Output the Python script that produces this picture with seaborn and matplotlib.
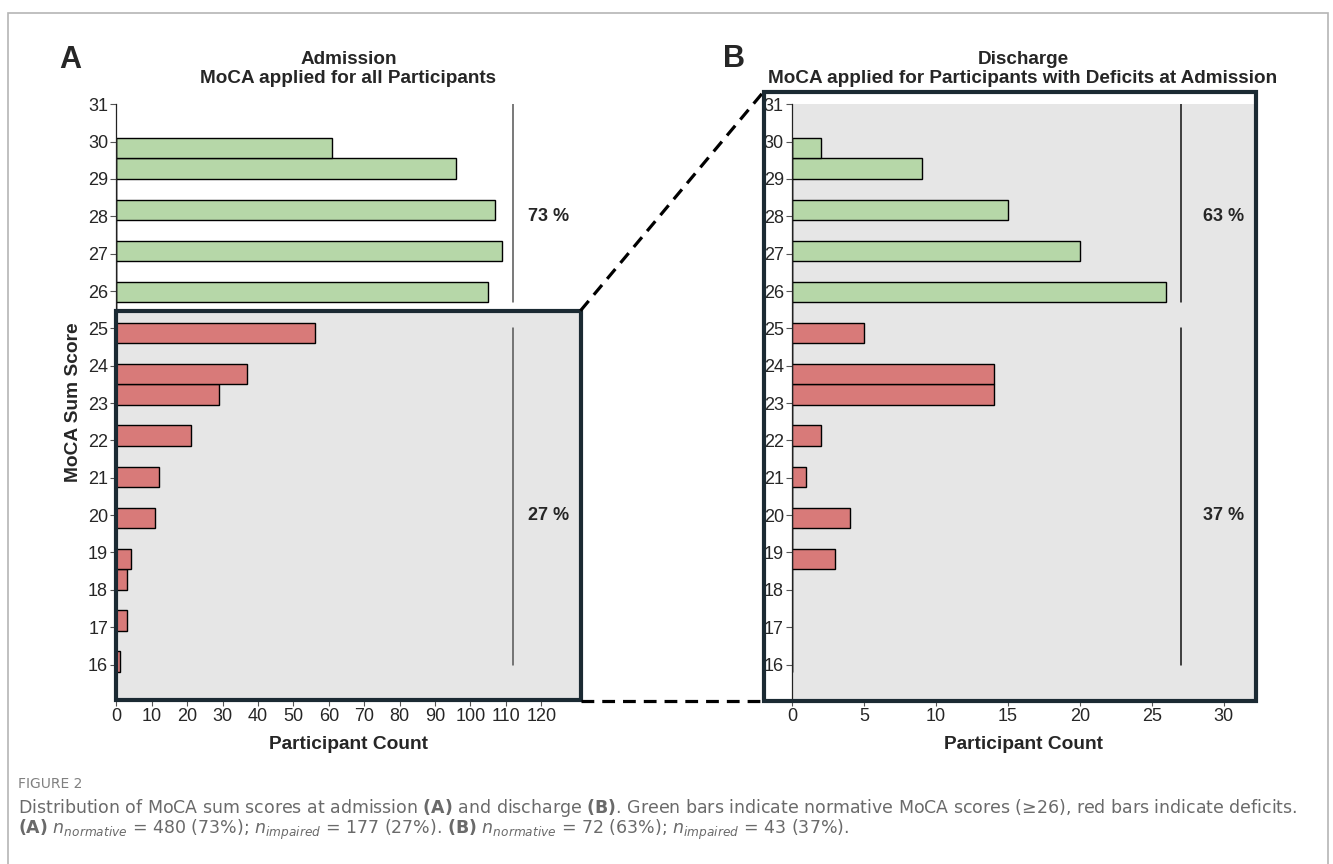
import matplotlib
matplotlib.use("Agg")
import matplotlib.pyplot as plt
import matplotlib.patches as mpatches
from matplotlib.lines import Line2D
import pandas as pd
import seaborn as sns

# MoCA sum scores and participant counts
scores_adm_norm = [26, 27, 28, 29, 30]
counts_adm_norm = [105, 109, 107, 96, 61]
scores_adm_def = [16, 17, 18, 19, 20, 21, 22, 23, 24, 25]
counts_adm_def = [1, 3, 3, 4, 11, 12, 21, 29, 37, 56]

scores_dis_norm = [26, 27, 28, 29, 30]
counts_dis_norm = [26, 20, 15, 9, 2]
scores_dis_def = [19, 20, 21, 22, 23, 24, 25]
counts_dis_def = [3, 4, 1, 2, 14, 14, 5]

pct_adm = ["73 %", "27 %"]
pct_dis = ["63 %", "37 %"]

GREEN = "#b6d7a8"
RED = "#d87a79"
GREY_BG = "#e6e6e6"
FRAME = "#1b2a33"

sns.set_style("white")
plt.rcParams["font.family"] = ["Liberation Sans", "DejaVu Sans"]

W, H = 1333, 864
fig = plt.figure(figsize=(W / 100, H / 100), dpi=100)

def fx(px):
    return px / W

def fy(py):
    return 1 - py / H

ax_top, ax_bot = 104.3, 700.0
axA = fig.add_axes([fx(116.4), fy(ax_bot), fx(580.5 - 116.4), (ax_bot - ax_top) / H])
axB = fig.add_axes([fx(792.1), fy(ax_bot), fx(1254.0 - 792.1), (ax_bot - ax_top) / H])

def draw(ax, s_norm, c_norm, s_def, c_def):
    dn = pd.DataFrame({"score": s_norm, "count": c_norm})
    dd = pd.DataFrame({"score": s_def, "count": c_def})
    # same binning as the original histogram
    for d, c in [(dn, GREEN), (dd, RED)]:
        sns.histplot(data=d, y="score", weights="count", bins=26, binrange=(15.8, 30.1),
                     color=c, edgecolor="black", linewidth=1, alpha=1, ax=ax, zorder=2)
    ax.set_ylim(15.05, 31)
    ax.set_yticks(range(16, 32))
    ax.set_xlabel("Participant Count", fontsize=13.8, fontweight="bold")
    ax.set_ylabel("")
    ax.xaxis.set_label_coords(0.5, -0.06)
    for s in ["top", "right", "bottom"]:
        ax.spines[s].set_visible(False)
    ax.spines["left"].set_color("#222222")
    ax.spines["left"].set_linewidth(0.9)
    ax.tick_params(axis="both", labelsize=13, colors="#555555", labelcolor="#262626",
                   length=4, width=0.8, left=True, bottom=True, pad=2)

draw(axA, scores_adm_norm, counts_adm_norm, scores_adm_def, counts_adm_def)
draw(axB, scores_dis_norm, counts_dis_norm, scores_dis_def, counts_dis_def)

# Panel A
xmaxA = 131.1
axA.set_xlim(0, xmaxA)
axA.set_xticks(range(0, 130, 10))
box_top = 25.47
axA.add_patch(mpatches.Rectangle((0, 15.05), xmaxA, box_top - 15.05, facecolor=GREY_BG,
                                 edgecolor="none", zorder=0.5))
axA.add_patch(mpatches.Rectangle((0, 15.05), xmaxA, box_top - 15.05, fill=False,
                                 edgecolor=FRAME, linewidth=3, zorder=5, clip_on=False))
axA.set_ylabel("MoCA Sum Score", fontsize=13.8, fontweight="bold")
axA.yaxis.set_label_coords(-0.074, 0.5)

# Panel B
axB.set_xlim(0, 32.1)
axB.set_xticks(range(0, 31, 5))
axB.set_facecolor(GREY_BG)

for ax, lx, tx, labels, lc in [(axA, 112, 122.2, pct_adm, "#555555"),
                               (axB, 27, 30, pct_dis, "#111111")]:
    ax.plot([lx, lx], [25.71, 31], color=lc, linewidth=1.1, zorder=3)
    ax.plot([lx, lx], [16, 25.0], color=lc, linewidth=1.1, zorder=3)
    ax.text(tx, 28, labels[0], ha="center", va="center", fontsize=13, fontweight="bold")
    ax.text(tx, 20, labels[1], ha="center", va="center", fontsize=13, fontweight="bold")

axA.text(0.5, 1.059, "Admission\nMoCA applied for all Participants", transform=axA.transAxes,
         ha="center", va="center", fontsize=13.6, fontweight="bold", linespacing=1.12)
axB.text(0.5, 1.059, "Discharge\nMoCA applied for Participants with Deficits at Admission",
         transform=axB.transAxes, ha="center", va="center", fontsize=13.6,
         fontweight="bold", linespacing=1.12)

fig.text(fx(70), fy(59.5), "A", ha="center", va="center", fontsize=22, fontweight="bold")
fig.text(fx(734), fy(59), "B", ha="center", va="center", fontsize=22, fontweight="bold")

# outer frame of panel B (zoom box)
fig.add_artist(mpatches.Rectangle((fx(763.6), fy(700.7)), fx(1255.7 - 763.6), (700.7 - 91.7) / H,
                                  transform=fig.transFigure, fill=False, edgecolor=FRAME,
                                  linewidth=3, zorder=10))
# dashed connectors
for (x0, y0), (x1, y1) in [((580.5, 310.7), (763.6, 91.7)), ((580.5, 700.7), (763.6, 700.7))]:
    fig.add_artist(Line2D([fx(x0), fx(x1)], [fy(y0), fy(y1)], transform=fig.transFigure,
                          color="black", linewidth=2.3, linestyle=(0, (4, 2.5)), zorder=9))

# page border
fig.add_artist(mpatches.Rectangle((fx(8), -0.01), fx(1320), (H - 13) / H + 0.01,
                                  transform=fig.transFigure, fill=False, edgecolor="#b5b5b5",
                                  linewidth=1.2))

# caption
plt.rcParams["mathtext.fontset"] = "dejavusans"
cap_font = ["DejaVu Sans"]
fig.text(fx(18), fy(784), "FIGURE 2", ha="left", va="center", fontsize=10,
         color="#808080", family=cap_font)
fig.text(fx(18), fy(808),
         "Distribution of MoCA sum scores at admission $\\mathbf{(A)}$ and discharge $\\mathbf{(B)}$. "
         "Green bars indicate normative MoCA scores (≥26), red bars indicate deficits.",
         ha="left", va="center", fontsize=12.5, color="#6a6a6a", family=cap_font)
fig.text(fx(18), fy(830),
         "$\\mathbf{(A)}$ $n_{normative}$ = 480 (73%); $n_{impaired}$ = 177 (27%). "
         "$\\mathbf{(B)}$ $n_{normative}$ = 72 (63%); $n_{impaired}$ = 43 (37%).",
         ha="left", va="center", fontsize=12.5, color="#6a6a6a", family=cap_font)

fig.savefig("out.png", dpi=100)
